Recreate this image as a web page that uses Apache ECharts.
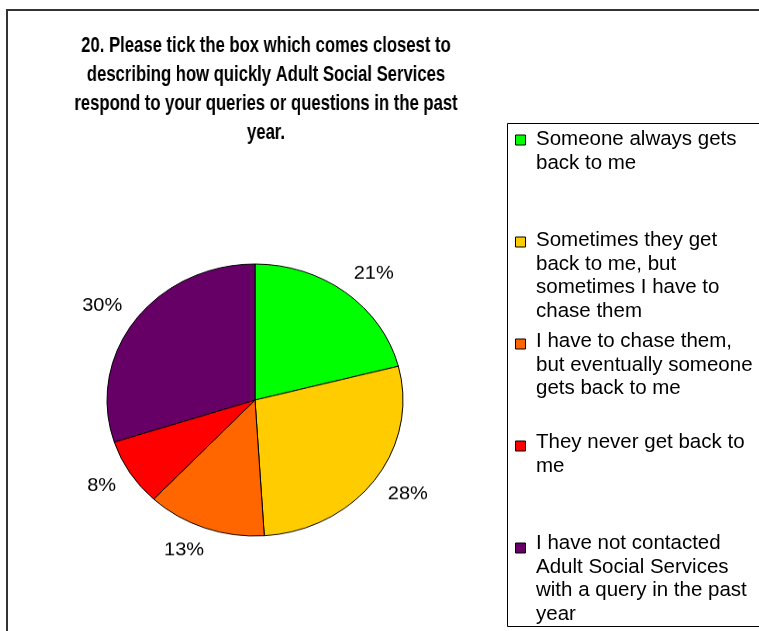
<!DOCTYPE html>
<html><head><meta charset="utf-8">
<script src="https://cdn.jsdelivr.net/npm/echarts@6/dist/echarts.min.js"></script>
<style>
html,body{margin:0;padding:0;background:#fff;}
#wrap{position:relative;width:759px;height:631px;overflow:hidden;background:#fff;}
#main,#pie,#ttl{position:absolute;left:0;top:0;width:759px;height:631px;}
#pie{transform:scaleY(0.919);transform-origin:255px 400px;}
#ttl{transform:scaleX(0.775);transform-origin:266px 0px;}
</style></head><body>
<div id="wrap"><div id="main"></div><div id="pie"></div><div id="ttl"></div></div>
<script>
const titleLines = [
  '20. Please tick the box which comes closest to',
  'describing how quickly Adult Social Services',
  'respond to your queries or questions in the past',
  'year.'
];
const categories = [
  'Someone always gets back to me',
  'Sometimes they get back to me, but sometimes I have to chase them',
  'I have to chase them, but eventually someone gets back to me',
  'They never get back to me',
  'I have not contacted Adult Social Services with a query in the past year'
];
const legendLines = [
  ['Someone always gets', 'back to me'],
  ['Sometimes they get', 'back to me, but', 'sometimes I have to', 'chase them'],
  ['I have to chase them,', 'but eventually someone', 'gets back to me'],
  ['They never get back to', 'me'],
  ['I have not contacted', 'Adult Social Services', 'with a query in the past', 'year']
];
const values = [21, 28, 13, 8, 30];
const colors = ['#00FF00', '#FFCC00', '#FF6600', '#FF0000', '#660066'];

const pieData = categories.map((c, i) => ({ name: c, value: values[i], itemStyle: { color: colors[i] } }));
const maxLines = 4;
const legendText = name => {
  const lines = legendLines[categories.indexOf(name)].slice();
  while (lines.length < maxLines) lines.push(' ');
  return lines.join('\n');
};

const main = echarts.init(document.getElementById('main'), null, { renderer: 'canvas' });
main.setOption({
  animation: false,
  backgroundColor: 'transparent',
  graphic: [
    { type: 'rect', z: 0, shape: { x: 7, y: 10, width: 800, height: 700 }, style: { fill: 'none', stroke: '#333', lineWidth: 2 } },
    { type: 'rect', z: 0, shape: { x: 507.5, y: 123.5, width: 300, height: 503 }, style: { fill: 'none', stroke: '#000', lineWidth: 1 } }
  ],
  legend: [
    {
      orient: 'vertical', left: 515, top: 134.5, padding: 0,
      itemWidth: 10, itemHeight: 10, itemGap: 91, icon: 'rect',
      selectedMode: false, data: categories,
      formatter: () => '',
      textStyle: { fontSize: 1, lineHeight: 1 },
      itemStyle: { borderColor: '#000', borderWidth: 1 }
    },
    {
      orient: 'vertical', left: 531, top: 127.75, padding: 0,
      itemWidth: 0, itemHeight: 10, itemGap: 7, icon: 'none',
      selectedMode: false, data: categories,
      formatter: legendText,
      textStyle: { fontFamily: "'Liberation Sans', Arial, sans-serif", fontSize: 20.5, lineHeight: 23.5, color: '#000' }
    }
  ],
  series: [{
    type: 'pie', center: [255, 400], radius: 0, silent: true,
    label: { show: false }, labelLine: { show: false },
    itemStyle: { borderWidth: 0 },
    data: pieData
  }]
});

const pie = echarts.init(document.getElementById('pie'), null, { renderer: 'canvas' });
pie.setOption({
  animation: false,
  backgroundColor: 'transparent',
  series: [
    {
      type: 'pie', center: [255, 400], radius: 148, startAngle: 90, clockwise: true,
      silent: true, emphasis: { disabled: true }, avoidLabelOverlap: false,
      label: {
        show: true, position: 'outside', formatter: '{c}%', distanceToLabelLine: -8,
        fontFamily: "'Liberation Sans', Arial, sans-serif", fontSize: 20, color: '#000'
      },
      labelLine: { show: false, length: 26, length2: 0 },
      itemStyle: { borderColor: '#000', borderWidth: 1 },
      data: pieData
    }
  ]
});

const ttl = echarts.init(document.getElementById('ttl'), null, { renderer: 'canvas' });
ttl.setOption({
  animation: false,
  backgroundColor: 'transparent',
  title: {
    text: titleLines.join('\n'),
    left: 266, top: 32, textAlign: 'center', padding: 0,
    textStyle: {
      fontFamily: "'Liberation Sans', Arial, sans-serif",
      fontWeight: 'bold', fontSize: 21.5, lineHeight: 29, color: '#000'
    }
  }
});
</script>
</body></html>
